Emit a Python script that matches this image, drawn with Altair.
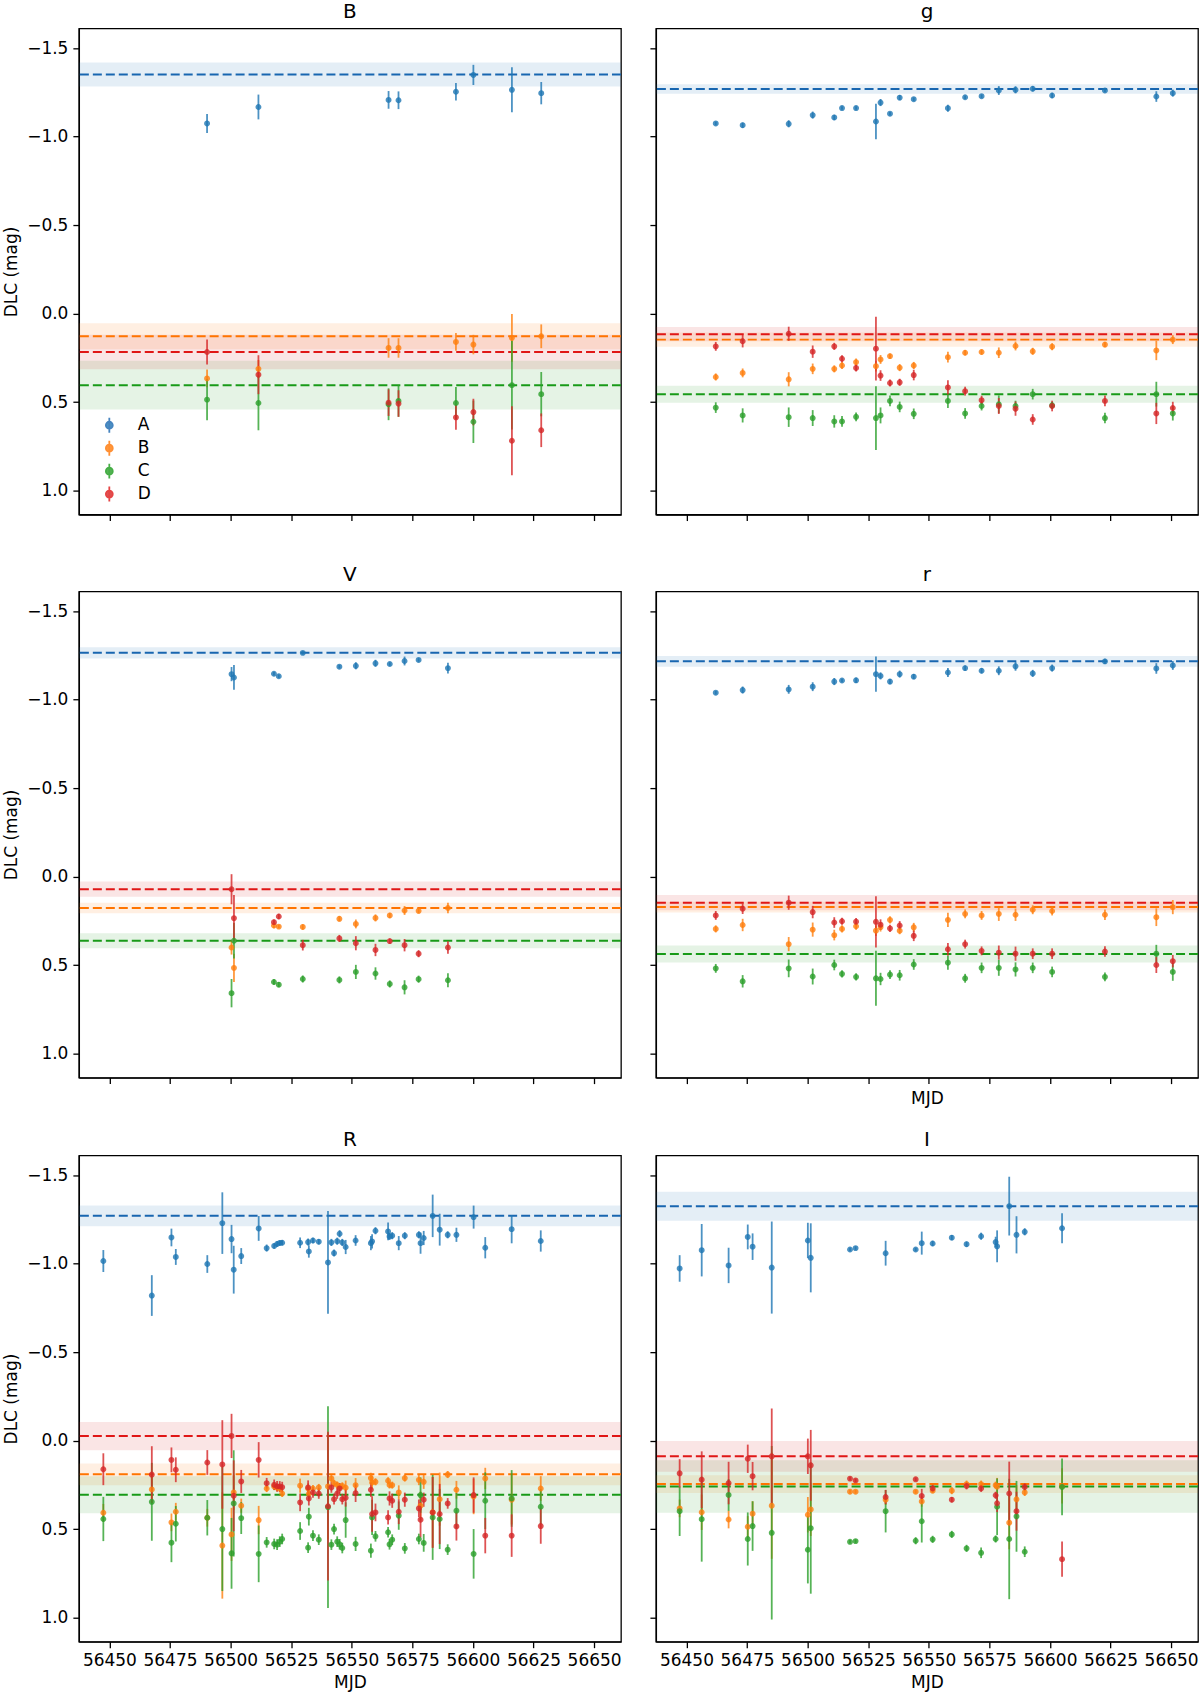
import altair as alt
import pandas as pd

# ---------------------------------------------------------------- data
STARS = ["A", "B", "C", "D"]
POINT_COLORS = ["#1f77b4", "#ff7f0e", "#2ca02c", "#d62728"]
LINE_COLORS = ["#1866b0", "#ff7400", "#189a18", "#e01616"]

# Filter B
b_mjd = [56490.3, 56511.5, 56565.2, 56569.3, 56593.0, 56600.2, 56616.1, 56628.2]
b_A = [-1.074, -1.167, -1.207, -1.205, -1.253, -1.348, -1.264, -1.245]
b_A_err = [0.054, 0.07, 0.05, 0.05, 0.05, 0.057, 0.127, 0.063]
b_B = [0.366, 0.312, 0.194, 0.194, 0.16, 0.175, 0.137, 0.128]
b_B_err = [0.05, 0.05, 0.055, 0.055, 0.05, 0.055, 0.135, 0.067]
b_C = [0.486, 0.505, 0.512, 0.493, 0.505, 0.611, 0.404, 0.455]
b_C_err = [0.116, 0.154, 0.09, 0.09, 0.09, 0.12, 0.25, 0.125]
b_D = [0.217, 0.345, 0.503, 0.508, 0.586, 0.556, 0.718, 0.659]
b_D_err = [0.07, 0.11, 0.075, 0.075, 0.07, 0.075, 0.195, 0.095]
b_level = [-1.35, 0.128, 0.404, 0.217]
b_width = [0.068, 0.074, 0.138, 0.097]

# Filter g
g_mjd = [56462.1, 56473.2, 56492.2, 56502.1, 56511.0, 56514.2, 56520.0, 56528.2,
         56530.1, 56534.0, 56538.0, 56543.8, 56557.9, 56565.0, 56571.8, 56578.9,
         56585.8, 56592.9, 56600.9, 56622.7, 56643.9, 56650.7]
g_A = [-1.074, -1.064, -1.072, -1.121, -1.108, -1.161, -1.161, -1.085, -1.192, -1.129, -1.220,
       -1.211, -1.16, -1.222, -1.228, -1.26, -1.264, -1.27, -1.232, -1.26, -1.226, -1.245]
g_A_err = [0.01, 0.015, 0.02, 0.02, 0.015, 0.01, 0.01, 0.1, 0.02, 0.01, 0.015, 0.01, 0.02,
           0.01, 0.01, 0.025, 0.02, 0.015, 0.015, 0.01, 0.03, 0.02]
g_B = [0.358, 0.335, 0.371, 0.312, 0.312, 0.293, 0.274, 0.297, 0.259, 0.24, 0.305, 0.293,
       0.246, 0.221, 0.217, 0.221, 0.183, 0.213, 0.187, 0.175, 0.208, 0.147]
g_B_err = [0.02, 0.025, 0.04, 0.03, 0.02, 0.02, 0.02, 0.03, 0.025, 0.015, 0.02, 0.02, 0.03,
           0.015, 0.015, 0.03, 0.025, 0.02, 0.02, 0.015, 0.055, 0.025]
g_C = [0.531, 0.575, 0.585, 0.59, 0.609, 0.609, 0.583, 0.59, 0.575, 0.493, 0.527, 0.566,
       0.493, 0.564, 0.522, 0.512, 0.522, 0.455, 0.518, 0.59, 0.455, 0.564]
g_C_err = [0.03, 0.04, 0.055, 0.045, 0.035, 0.03, 0.025, 0.18, 0.045, 0.03, 0.03, 0.03, 0.04,
           0.03, 0.025, 0.05, 0.03, 0.03, 0.02, 0.03, 0.07, 0.04]
g_D = [0.185, 0.156, 0.114, 0.215, 0.185, 0.255, 0.307, 0.198, 0.35, 0.392, 0.388, 0.347,
       0.417, 0.438, 0.489, 0.522, 0.537, 0.598, 0.522, 0.493, 0.564, 0.533]
g_D_err = [0.025, 0.035, 0.04, 0.035, 0.02, 0.02, 0.02, 0.18, 0.03, 0.02, 0.02, 0.03, 0.04,
           0.025, 0.025, 0.045, 0.04, 0.03, 0.03, 0.03, 0.06, 0.035]
g_level = [-1.268, 0.147, 0.455, 0.116]
g_width = [0.027, 0.04, 0.048, 0.04]

# Filter V
v_mjd = [56500.4, 56501.4, 56517.9, 56519.9, 56529.8, 56544.9, 56551.7, 56559.8,
         56565.7, 56571.8, 56577.6, 56589.7]
v_A = [-1.144, -1.125, -1.146, -1.132, -1.264, -1.186, -1.191, -1.205, -1.201, -1.218, -1.224, -1.178]
v_A_err = [0.04, 0.07, 0.01, 0.01, 0.01, 0.01, 0.02, 0.02, 0.01, 0.025, 0.01, 0.03]
v_B = [0.40, 0.515, 0.276, 0.282, 0.284, 0.238, 0.267, 0.233, 0.219, 0.191, 0.193, 0.177]
v_B_err = [0.04, 0.08, 0.015, 0.01, 0.015, 0.015, 0.025, 0.02, 0.015, 0.025, 0.015, 0.03]
v_C = [0.658, 0.362, 0.595, 0.61, 0.578, 0.583, 0.538, 0.547, 0.606, 0.625, 0.579, 0.585]
v_C_err = [0.08, 0.1, 0.015, 0.015, 0.02, 0.02, 0.04, 0.035, 0.02, 0.04, 0.02, 0.04]
v_D = [0.071, 0.234, 0.257, 0.225, 0.387, 0.349, 0.376, 0.414, 0.364, 0.387, 0.435, 0.40]
v_D_err = [0.085, 0.13, 0.015, 0.015, 0.03, 0.02, 0.04, 0.035, 0.015, 0.035, 0.02, 0.035]
v_level = [-1.264, 0.177, 0.362, 0.071]
v_width = [0.032, 0.03, 0.042, 0.043]

# Filter r
r_mjd = g_mjd
r_A = [-1.039, -1.054, -1.058, -1.073, -1.102, -1.108, -1.109, -1.144, -1.134, -1.102, -1.144,
       -1.13, -1.153, -1.178, -1.163, -1.163, -1.188, -1.148, -1.178, -1.216, -1.176, -1.193]
r_A_err = [0.01, 0.02, 0.025, 0.025, 0.02, 0.01, 0.015, 0.1, 0.02, 0.015, 0.02, 0.015, 0.025,
           0.015, 0.015, 0.025, 0.025, 0.02, 0.02, 0.015, 0.03, 0.025]
r_B = [0.295, 0.273, 0.381, 0.299, 0.33, 0.295, 0.28, 0.305, 0.285, 0.244, 0.305, 0.286,
       0.244, 0.21, 0.219, 0.21, 0.215, 0.187, 0.194, 0.215, 0.229, 0.172]
r_B_err = [0.02, 0.035, 0.04, 0.04, 0.03, 0.02, 0.02, 0.03, 0.025, 0.02, 0.02, 0.025, 0.04,
           0.025, 0.025, 0.04, 0.035, 0.025, 0.025, 0.03, 0.05, 0.04]
r_C = [0.518, 0.591, 0.518, 0.564, 0.499, 0.549, 0.566, 0.574, 0.578, 0.553, 0.557, 0.496,
       0.486, 0.574, 0.515, 0.515, 0.524, 0.515, 0.538, 0.566, 0.435, 0.538]
r_C_err = [0.025, 0.035, 0.05, 0.045, 0.03, 0.02, 0.02, 0.155, 0.035, 0.025, 0.03, 0.03, 0.04,
           0.025, 0.03, 0.045, 0.04, 0.03, 0.03, 0.025, 0.05, 0.05]
r_D = [0.219, 0.181, 0.147, 0.2, 0.259, 0.252, 0.254, 0.255, 0.271, 0.292, 0.276, 0.334,
       0.41, 0.381, 0.419, 0.429, 0.435, 0.435, 0.435, 0.423, 0.499, 0.477]
r_D_err = [0.025, 0.03, 0.04, 0.035, 0.03, 0.02, 0.02, 0.145, 0.03, 0.02, 0.025, 0.03, 0.035,
           0.025, 0.025, 0.04, 0.04, 0.03, 0.03, 0.03, 0.045, 0.035]
r_level = [-1.216, 0.172, 0.437, 0.147]
r_width = [0.03, 0.03, 0.048, 0.043]

# Filter R
R_mjd = [56447.5, 56467.5, 56475.6, 56477.4, 56490.4, 56496.6, 56500.4, 56501.3, 56504.4,
         56511.6, 56514.9, 56518.0, 56519.2, 56520.3, 56521.3, 56528.7, 56532.0, 56532.3,
         56534.0, 56536.4, 56540.2, 56541.6, 56542.7, 56544.0, 56545.0, 56546.1, 56547.5,
         56551.6, 56557.9, 56558.4, 56559.8, 56565.0, 56565.6, 56566.7, 56569.4, 56571.9,
         56577.7, 56578.4, 56579.7, 56583.4, 56586.3, 56589.6, 56593.2, 56600.3, 56605.1,
         56616.0, 56628.0]
R_A = [-1.015, -0.82, -1.148, -1.038, -0.998, -1.229, -1.139, -0.966, -1.043, -1.199, -1.088,
       -1.1, -1.111, -1.117, -1.118, -1.118, -1.122, -1.069, -1.131, -1.124, -1.007, -1.12,
       -1.06, -1.127, -1.169, -1.12, -1.094, -1.131, -1.116, -1.126, -1.186, -1.182, -1.154,
       -1.158, -1.116, -1.158, -1.163, -1.116, -1.145, -1.27, -1.192, -1.163, -1.163, -1.263,
       -1.09, -1.195, -1.128]
R_A_err = [0.062, 0.115, 0.05, 0.045, 0.05, 0.174, 0.08, 0.135, 0.045, 0.07, 0.02, 0.015,
           0.015, 0.015, 0.015, 0.03, 0.02, 0.035, 0.015, 0.015, 0.29, 0.02, 0.02, 0.02, 0.02,
           0.02, 0.04, 0.03, 0.04, 0.04, 0.02, 0.05, 0.02, 0.02, 0.04, 0.02, 0.02, 0.06, 0.04,
           0.12, 0.09, 0.02, 0.04, 0.065, 0.06, 0.08, 0.06]
R_B = [0.407, 0.275, 0.461, 0.401, 0.435, 0.592, 0.529, 0.292, 0.367, 0.448, 0.27, 0.258,
       0.265, 0.27, 0.298, 0.254, 0.27, 0.3, 0.27, 0.264, 0.258, 0.213, 0.24, 0.25, 0.26,
       0.255, 0.265, 0.251, 0.211, 0.236, 0.232, 0.226, 0.25, 0.251, 0.292, 0.211, 0.221,
       0.367, 0.232, 0.404, 0.33, 0.191, 0.277, 0.315, 0.213, 0.333, 0.27]
R_B_err = [0.05, 0.08, 0.05, 0.05, 0.05, 0.3, 0.15, 0.1, 0.04, 0.08, 0.02, 0.02, 0.02, 0.02,
           0.02, 0.04, 0.03, 0.03, 0.02, 0.02, 0.3, 0.02, 0.02, 0.02, 0.02, 0.02, 0.04, 0.04,
           0.03, 0.04, 0.02, 0.02, 0.02, 0.02, 0.04, 0.02, 0.03, 0.08, 0.04, 0.2, 0.15, 0.02,
           0.05, 0.1, 0.06, 0.14, 0.07]
R_C = [0.442, 0.345, 0.576, 0.469, 0.435, 0.499, 0.636, 0.354, 0.437, 0.639, 0.574, 0.583,
       0.587, 0.57, 0.555, 0.51, 0.604, 0.429, 0.536, 0.559, 0.375, 0.587, 0.499, 0.57, 0.585,
       0.606, 0.448, 0.583, 0.621, 0.433, 0.54, 0.517, 0.585, 0.559, 0.423, 0.608, 0.555,
       0.307, 0.577, 0.433, 0.442, 0.615, 0.395, 0.639, 0.339, 0.326, 0.373]
R_C_err = [0.125, 0.22, 0.11, 0.1, 0.1, 0.35, 0.2, 0.3, 0.09, 0.16, 0.03, 0.03, 0.03, 0.03,
           0.03, 0.05, 0.03, 0.05, 0.03, 0.03, 0.57, 0.03, 0.03, 0.03, 0.03, 0.03, 0.1, 0.04,
           0.04, 0.1, 0.03, 0.03, 0.03, 0.03, 0.08, 0.03, 0.03, 0.1, 0.05, 0.24, 0.17, 0.03,
           0.1, 0.14, 0.16, 0.16, 0.1]
R_D = [0.161, 0.191, 0.108, 0.164, 0.123, 0.134, -0.027, 0.311, 0.23, 0.108, 0.24, 0.249,
       0.258, 0.258, 0.262, 0.348, 0.264, 0.326, 0.292, 0.298, 0.37, 0.264, 0.33, 0.298,
       0.269, 0.33, 0.322, 0.296, 0.277, 0.414, 0.405, 0.433, 0.326, 0.339, 0.401, 0.333,
       0.382, 0.446, 0.333, 0.405, 0.414, 0.354, 0.484, 0.307, 0.536, 0.536, 0.482]
R_D_err = [0.09, 0.16, 0.07, 0.07, 0.07, 0.25, 0.125, 0.2, 0.065, 0.1, 0.03, 0.03, 0.03, 0.03,
           0.03, 0.05, 0.04, 0.04, 0.03, 0.03, 0.42, 0.03, 0.03, 0.03, 0.03, 0.03, 0.05, 0.05,
           0.04, 0.1, 0.05, 0.04, 0.04, 0.04, 0.07, 0.04, 0.05, 0.1, 0.04, 0.2, 0.17, 0.03,
           0.08, 0.1, 0.1, 0.12, 0.1]
R_level = [-1.27, 0.19, 0.305, -0.026]
R_width = [0.058, 0.062, 0.105, 0.08]

# Filter I
i_mjd = [56447.2, 56456.3, 56467.4, 56475.3, 56477.3, 56485.2, 56500.1, 56501.3, 56517.5,
         56519.8, 56532.2, 56544.6, 56547.1, 56551.6, 56559.5, 56565.6, 56571.6, 56577.6,
         56578.2, 56583.2, 56586.2, 56589.6, 56605.0]
i_A = [-0.973, -1.076, -0.99, -1.151, -1.096, -0.978, -1.131, -1.033, -1.08, -1.088, -1.059,
       -1.08, -1.116, -1.114, -1.147, -1.11, -1.155, -1.122, -1.098, -1.325, -1.163, -1.18, -1.2]
i_A_err = [0.075, 0.148, 0.1, 0.07, 0.075, 0.26, 0.1, 0.195, 0.01, 0.01, 0.07, 0.01, 0.065,
           0.015, 0.015, 0.015, 0.02, 0.03, 0.09, 0.166, 0.105, 0.02, 0.085]
i_B = [0.382, 0.404, 0.445, 0.486, 0.412, 0.367, 0.418, 0.388, 0.288, 0.288, 0.333, 0.288,
       0.343, 0.282, 0.282, 0.245, 0.245, 0.251, 0.26, 0.463, 0.331, 0.292, 0.255]
i_B_err = [0.05, 0.1, 0.05, 0.06, 0.07, 0.3, 0.1, 0.15, 0.01, 0.01, 0.03, 0.01, 0.03, 0.015,
           0.02, 0.02, 0.02, 0.02, 0.05, 0.15, 0.08, 0.02, 0.1]
i_C = [0.398, 0.443, 0.306, 0.555, 0.482, 0.52, 0.616, 0.494, 0.571, 0.567, 0.398, 0.565,
       0.455, 0.557, 0.529, 0.608, 0.633, 0.555, 0.373, 0.555, 0.427, 0.627, 0.261]
i_C_err = [0.14, 0.24, 0.09, 0.15, 0.14, 0.49, 0.19, 0.37, 0.01, 0.01, 0.12, 0.02, 0.12, 0.02,
           0.02, 0.02, 0.03, 0.02, 0.16, 0.34, 0.2, 0.03, 0.16]
i_D = [0.184, 0.22, 0.239, 0.102, 0.2, 0.088, 0.088, 0.139, 0.214, 0.224, 0.318, 0.218,
       0.312, 0.269, 0.333, 0.255, 0.269, 0.308, 0.353, 0.298, 0.398, 0.261, 0.669]
i_D_err = [0.08, 0.16, 0.12, 0.08, 0.08, 0.27, 0.1, 0.2, 0.01, 0.01, 0.04, 0.01, 0.04, 0.02,
           0.015, 0.02, 0.02, 0.02, 0.05, 0.18, 0.11, 0.02, 0.1]
i_level = [-1.324, 0.245, 0.259, 0.088]
i_width = [0.082, 0.05, 0.148, 0.087]

Y_TICKS = [-1.5, -1.0, -0.5, 0.0, 0.5, 1.0]
X_TICKS = [56450, 56475, 56500, 56525, 56550, 56575, 56600, 56625, 56650]
X_DOMAIN = [56437.4, 56661.1]
Y_DOMAIN = [-1.611, 1.135]

FONT = "DejaVu Sans"
PANEL_W, PANEL_H = 543, 487

# Error-bar legend glyph: vertical bar through a dot
ERRBAR_GLYPH = ("M0,-1L0,1M0.46,0A0.46,0.46,0,1,1,-0.46,0"
                "A0.46,0.46,0,1,1,0.46,0Z")


def points_frame(mjd, series):
    rows = []
    for star, (mag, err) in zip(STARS, series):
        for t, m, e in zip(mjd, mag, err):
            rows.append({"mjd": t, "star": star, "mag": m, "lo": m - e, "hi": m + e})
    return pd.DataFrame(rows)


def level_frame(level, width):
    return pd.DataFrame({
        "star": STARS,
        "level": level,
        "lo": [l - w for l, w in zip(level, width)],
        "hi": [l + w for l, w in zip(level, width)],
    })


def panel(title, mjd, series, level, width, left, bottom, xtitle, legend=False):
    pts = points_frame(mjd, series)
    ref = level_frame(level, width)

    yscale = alt.Scale(domain=Y_DOMAIN, reverse=True, nice=False, zero=False)
    xscale = alt.Scale(domain=X_DOMAIN, nice=False, zero=False)
    yaxis = alt.Axis(values=Y_TICKS, format=".1f", labels=left,
                     title="DLC (mag)" if left else None)
    xaxis = alt.Axis(values=X_TICKS, format="d", labels=bottom, title=xtitle)

    x_enc = alt.X("mjd:Q", scale=xscale, axis=xaxis)
    tab_fill = alt.Scale(domain=STARS, range=POINT_COLORS)
    tab_stroke = alt.Scale(domain=STARS, range=POINT_COLORS)
    line_col = alt.Scale(domain=STARS, range=LINE_COLORS)

    if legend:
        leg = alt.Legend(title=None, orient="none", legendX=22, legendY=389,
                         symbolType=ERRBAR_GLYPH, symbolSize=225,
                         symbolStrokeWidth=1.8, symbolOpacity=0.8,
                         labelFont=FONT, labelFontSize=17, labelColor="black",
                         labelOffset=20, rowPadding=0, padding=0)
    else:
        leg = None

    band = alt.Chart(ref).mark_rect(opacity=0.12).encode(
        y=alt.Y("lo:Q", scale=yscale, axis=yaxis),
        y2="hi:Q",
        fill=alt.Fill("star:N", scale=tab_fill, legend=leg),
    )
    dashed = alt.Chart(ref).mark_rule(strokeDash=[9, 4], strokeWidth=2).encode(
        y=alt.Y("level:Q", scale=yscale, axis=yaxis),
        color=alt.Color("star:N", scale=line_col, legend=None),
    )
    bars = alt.Chart(pts).mark_rule(strokeWidth=1.8, opacity=0.8).encode(
        x=x_enc,
        y=alt.Y("lo:Q", scale=yscale, axis=yaxis),
        y2="hi:Q",
        stroke=alt.Stroke("star:N", scale=tab_stroke, legend=leg),
    )
    dots = alt.Chart(pts).mark_circle(size=17, strokeWidth=1.8, opacity=0.8).encode(
        x=x_enc,
        y=alt.Y("mag:Q", scale=yscale, axis=yaxis),
        fill=alt.Fill("star:N", scale=tab_fill, legend=leg),
        stroke=alt.Stroke("star:N", scale=tab_stroke, legend=leg),
    )
    return alt.layer(band, dashed, bars, dots).properties(
        width=PANEL_W, height=PANEL_H,
        title=alt.TitleParams(title, font=FONT, fontSize=20, fontWeight="normal",
                              color="black", anchor="middle", offset=6),
    )


pB = panel("B", b_mjd, [(b_A, b_A_err), (b_B, b_B_err), (b_C, b_C_err), (b_D, b_D_err)],
           b_level, b_width, True, False, None, legend=True)
pg = panel("g", g_mjd, [(g_A, g_A_err), (g_B, g_B_err), (g_C, g_C_err), (g_D, g_D_err)],
           g_level, g_width, False, False, None)
pV = panel("V", v_mjd, [(v_A, v_A_err), (v_B, v_B_err), (v_C, v_C_err), (v_D, v_D_err)],
           v_level, v_width, True, False, None)
pr = panel("r", r_mjd, [(r_A, r_A_err), (r_B, r_B_err), (r_C, r_C_err), (r_D, r_D_err)],
           r_level, r_width, False, False, "MJD")
pR = panel("R", R_mjd, [(R_A, R_A_err), (R_B, R_B_err), (R_C, R_C_err), (R_D, R_D_err)],
           R_level, R_width, True, True, "MJD")
pI = panel("I", i_mjd, [(i_A, i_A_err), (i_B, i_B_err), (i_C, i_C_err), (i_D, i_D_err)],
           i_level, i_width, False, True, "MJD")

top_rows = alt.vconcat(
    alt.hconcat(pB, pg, spacing=25),
    alt.hconcat(pV, pr, spacing=25),
    spacing=42,
)
chart = alt.vconcat(
    top_rows,
    alt.hconcat(pR, pI, spacing=25),
    spacing=21,
).properties(
    padding={"left": 2, "top": 0, "right": 0, "bottom": 0},
    background="white",
).configure_view(
    stroke="black", strokeWidth=1.3,
).configure_axis(
    grid=False,
    domainColor="black", domainWidth=1.3,
    tickColor="black", tickWidth=1.3, tickSize=6,
    labelFont=FONT, labelFontSize=17, labelColor="black", labelPadding=5,
    labelOverlap=False, labelFlush=False,
    titleFont=FONT, titleFontSize=17, titleFontWeight="normal", titleColor="black",
    titlePadding=6,
)

chart.save("out.html", embed_options={"renderer": "svg", "actions": False})
